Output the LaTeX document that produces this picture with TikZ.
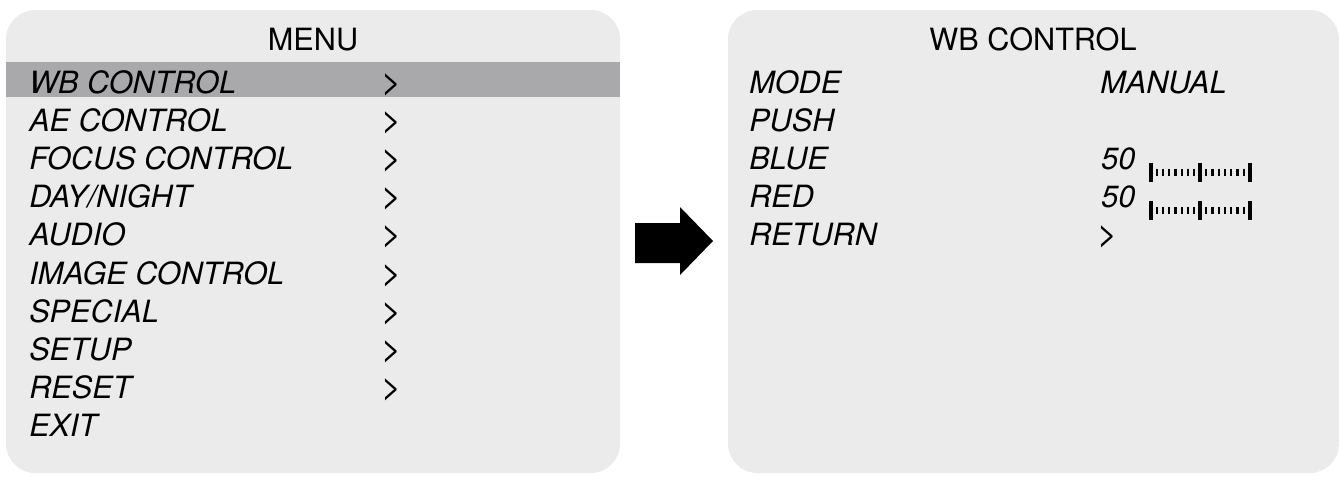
\documentclass[tikz,border=0pt]{standalone}
\usepackage{fontspec}
\setmainfont{TeX Gyre Heros}
\definecolor{panelgray}{HTML}{EBEBEB}
\definecolor{selgray}{HTML}{A9A9AC}
\begin{document}
\begin{tikzpicture}[x=0.75pt,y=-0.75pt,line join=round,font=\fontsize{23}{27}\selectfont,
	item/.style={anchor=base west,inner sep=0pt,font=\fontsize{23}{27}\selectfont\itshape},
	more/.style={anchor=base west,inner sep=0pt,font=\fontsize{26}{30}\selectfont},
	title/.style={anchor=base,inner sep=0pt},
	bigtick/.style={line width=2.5pt},smalltick/.style={line width=1.6pt}]
	\useasboundingbox (0,0) rectangle (1339,476);
	% panels
	\fill[panelgray,rounded corners=22pt] (6,10) rectangle (620,473);
	\fill[panelgray,rounded corners=22pt] (728,10) rectangle (1339,473);
	\fill[selgray] (6,62) rectangle (620,97);
	% left menu
	\node[title] (menu) at (313,50) {MENU};
	\foreach \t [count=\i from 0] in {WB CONTROL,AE CONTROL,FOCUS CONTROL,DAY/NIGHT,AUDIO,IMAGE CONTROL,SPECIAL,SETUP,RESET,EXIT}
		\node[item] (m\i) at (29,{93+\i*38.2}) {\t};
	\foreach \i in {0,...,8}
		\node[more] (g\i) at (381,{93+\i*38.2}) {>};
	% arrow
	\fill (635,223)--(680,223)--(680,207)--(713,241)--(680,275)--(680,263)--(635,263)--cycle;
	% right menu
	\node[title] (wb) at (1033,50) {WB CONTROL};
	\foreach \t [count=\i from 0] in {MODE,PUSH,BLUE,RED,RETURN}
		\node[item] (w\i) at (749,{93+\i*38.2}) {\t};
	\node[item] (mode) at (1100,93) {MANUAL};
	\node[item] (blue) at (1101,169.4) {50};
	\node[item] (red) at (1101,207.6) {50};
	\node[more] (ret) at (1097,245.8) {>};
	% sliders
	\foreach \y in {172.4,210.6}{
		\foreach \x in {1151,1200,1250}
			\draw[bigtick] (\x,\y-9.5)--(\x,\y+9.5);
		\foreach \k in {1,...,7}{
			\draw[smalltick] ({1151+\k*49/8},\y-3.5)--({1151+\k*49/8},\y+3.5);
			\draw[smalltick] ({1200+\k*50/8},\y-3.5)--({1200+\k*50/8},\y+3.5);
		}
	}
\end{tikzpicture}
\end{document}
